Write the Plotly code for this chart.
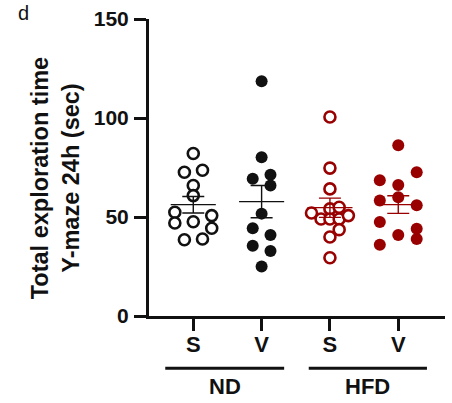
import numpy as np
import plotly.graph_objects as go

# ---- data ----
categories = ["S", "V", "S", "V"]
diet_groups = ["ND", "HFD"]

nd_s = [82.1, 72.6, 73.6, 65.9, 60.8, 52.4, 50.7, 47.0, 47.6, 44.3, 38.5, 38.9]
nd_v = [118.6, 80.2, 69.3, 71.3, 65.9, 51.7, 44.3, 40.9, 35.5, 32.8, 25.0]
hfd_s = [100.5, 74.7, 64.2, 54.1, 54.9, 52.0, 49.0, 49.0, 49.0, 50.7, 43.6, 39.9, 29.4]
hfd_v = [86.2, 72.6, 68.6, 66.2, 60.0, 58.3, 55.9, 47.5, 44.1, 40.9, 38.9, 36.0]

# horizontal scatter offsets (category units) as seen in the picture
nd_s_off = [0, -0.13, 0.135, 0, 0, -0.27, 0.27, -0.27, 0, 0.27, -0.13, 0.135]
nd_v_off = [0, 0, -0.13, 0.13, 0.13, 0, -0.13, 0.13, -0.13, 0.13, 0]
hfd_s_off = [0, 0, 0, 0, 0.135, -0.27, -0.13, 0, 0.135, 0.27, 0.135, 0, 0]
hfd_v_off = [0, 0.27, -0.27, 0, 0, -0.27, 0.27, -0.27, 0.27, 0, 0.27, -0.27]

y_ticks = [0, 50, 100, 150]

BLACK = "#111111"
RED = "#990000"
FONT = "Liberation Sans"

series = [
    (nd_s, nd_s_off, BLACK, True),
    (nd_v, nd_v_off, BLACK, False),
    (hfd_s, hfd_s_off, RED, True),
    (hfd_v, hfd_v_off, RED, False),
]

fig = go.Figure()

for i, (vals, offs, col, hollow) in enumerate(series):
    xs = [i + o for o in offs]
    fig.add_trace(go.Scatter(
        x=xs, y=vals, mode="markers",
        marker=dict(
            size=11 if hollow else 12,
            color="white" if hollow else col,
            line=dict(color=col, width=2.6 if hollow else 0),
        ),
        showlegend=False, hoverinfo="y",
    ))

for i, (vals, offs, col, hollow) in enumerate(series):
    arr = np.array(vals)
    m = arr.mean()
    sem = arr.std(ddof=1) / np.sqrt(len(arr))
    # mean line
    fig.add_trace(go.Scatter(
        x=[i - 0.33, i + 0.33], y=[m, m], mode="lines",
        line=dict(color=col, width=1.2), showlegend=False, hoverinfo="skip",
    ))
    # SEM bar
    fig.add_trace(go.Scatter(
        x=[i], y=[m], mode="markers", marker=dict(size=1, color="rgba(0,0,0,0)"),
        error_y=dict(type="data", array=[sem], visible=True, color=col,
                     thickness=1.4, width=11),
        showlegend=False, hoverinfo="skip",
    ))

# group bars under the x axis
group_spans = [(-0.41, 1.33), (1.69, 3.42)]
for (x0, x1), name in zip(group_spans, diet_groups):
    fig.add_shape(type="line", xref="x", yref="paper", x0=x0, x1=x1,
                  y0=-0.176, y1=-0.176, line=dict(color=BLACK, width=2.8))
    fig.add_annotation(xref="x", yref="paper", x=(x0 + x1) / 2, y=-0.238,
                       text="<b>%s</b>" % name, showarrow=False,
                       font=dict(family=FONT, size=22, color=BLACK),
                       xanchor="center", yanchor="middle")

# y title
fig.add_annotation(xref="paper", yref="paper", x=-0.315, y=0.463,
                   text="<b>Total exploration time<br>Y-maze 24h (sec)</b>",
                   textangle=-90, showarrow=False,
                   font=dict(family=FONT, size=23.5, color=BLACK),
                   xanchor="center", yanchor="middle")

# panel letters
fig.add_annotation(xref="paper", yref="paper", x=-0.45, y=1.02, text="d",
                   showarrow=False, font=dict(family=FONT, size=20, color=BLACK),
                   xanchor="left", yanchor="middle")
fig.add_annotation(xref="paper", yref="paper", x=-0.435, y=-0.285, text="f",
                   showarrow=False, font=dict(family=FONT, size=20, color=BLACK),
                   xanchor="left", yanchor="top")

fig.update_layout(
    width=452, height=403,
    margin=dict(l=149, r=7, t=19, b=87),
    paper_bgcolor="white", plot_bgcolor="white",
    xaxis=dict(
        range=[-0.648, 3.684], tickmode="array", tickvals=[0, 1, 2, 3],
        ticktext=["<b>%s</b>" % c for c in categories],
        showline=True, linecolor=BLACK, linewidth=3,
        ticks="outside", ticklen=12, tickwidth=3, tickcolor=BLACK,
        tickfont=dict(family=FONT, size=22, color=BLACK),
        showgrid=False, zeroline=False, ticklabelstandoff=-5,
    ),
    yaxis=dict(
        range=[0, 150], tickmode="array", tickvals=y_ticks,
        ticktext=["<b>%d</b>" % t for t in y_ticks],
        showline=True, linecolor=BLACK, linewidth=3,
        ticks="outside", ticklen=12, tickwidth=3, tickcolor=BLACK,
        tickfont=dict(family=FONT, size=21, color=BLACK),
        showgrid=False, zeroline=False, ticklabelstandoff=1,
    ),
)

fig.write_html("out.html", config={"displayModeBar": False},
               post_script="document.body.style.margin='0';document.body.style.overflow='hidden';")
